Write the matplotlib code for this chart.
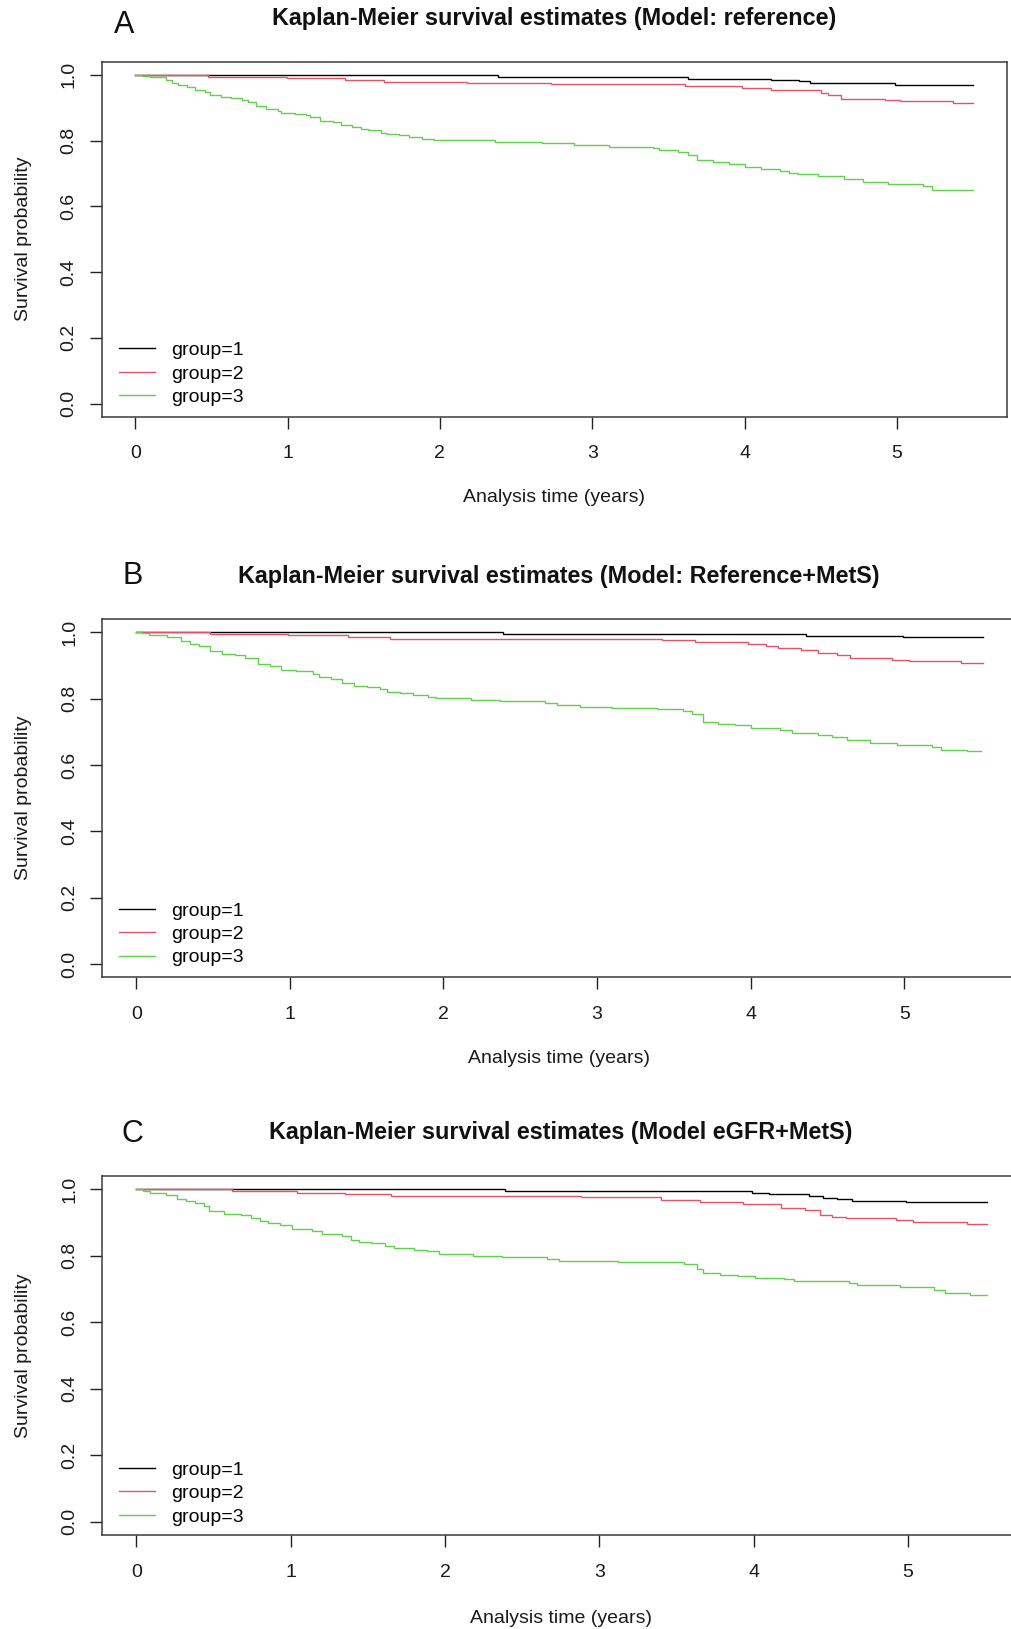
import matplotlib
matplotlib.use("Agg")
import matplotlib.pyplot as plt
from matplotlib.lines import Line2D

plt.rcParams['font.family'] = ['Liberation Sans', 'DejaVu Sans']

# ---------------- data ----------------
group_labels = ["group=1", "group=2", "group=3"]
group_colors = ["#000000", "#DF536B", "#61D04F"]
x_ticks = [0, 1, 2, 3, 4, 5]
y_ticks = [0.0, 0.2, 0.4, 0.6, 0.8, 1.0]
y_ticklabels = ["0.0", "0.2", "0.4", "0.6", "0.8", "1.0"]

titles = ["Kaplan-Meier survival estimates (Model: reference)",
          "Kaplan-Meier survival estimates (Model: Reference+MetS)",
          "Kaplan-Meier survival estimates (Model eGFR+MetS)"]
panel_letters = ["A", "B", "C"]

# Panel A
A_t1 = [0, 2.38, 3.63, 4.17, 4.36, 4.43, 4.99, 5.50]
A_s1 = [1.0, 0.994, 0.988, 0.985, 0.980, 0.975, 0.970, 0.970]
A_t2 = [0, 0.475, 0.995, 1.38, 1.63, 2.18, 2.73, 3.61, 3.98, 4.17, 4.50, 4.55, 4.63, 4.92, 5.02, 5.37, 5.50]
A_s2 = [1.0, 0.993, 0.989, 0.983, 0.978, 0.975, 0.971, 0.967, 0.961, 0.953, 0.946, 0.940, 0.927, 0.922, 0.919, 0.914, 0.914]
A_t3 = [0, 0.044, 0.10, 0.20, 0.24, 0.28, 0.34, 0.39, 0.46, 0.49, 0.56, 0.63, 0.70, 0.74, 0.79, 0.86, 0.94, 0.96,
        1.05, 1.12, 1.15, 1.21, 1.30, 1.35, 1.42, 1.48, 1.53, 1.61, 1.65, 1.73, 1.80, 1.88, 1.96, 2.36, 2.67, 2.88,
        3.11, 3.40, 3.44, 3.56, 3.63, 3.69, 3.79, 3.90, 4.00, 4.11, 4.23, 4.29, 4.35, 4.48, 4.65, 4.78, 4.94, 5.17,
        5.23, 5.50]
A_s3 = [1.0, 0.996, 0.993, 0.985, 0.976, 0.970, 0.963, 0.955, 0.948, 0.940, 0.934, 0.929, 0.922, 0.917, 0.904,
        0.897, 0.890, 0.885, 0.880, 0.877, 0.871, 0.861, 0.856, 0.846, 0.841, 0.836, 0.831, 0.824, 0.821, 0.816,
        0.810, 0.805, 0.802, 0.797, 0.792, 0.787, 0.782, 0.777, 0.772, 0.765, 0.755, 0.742, 0.736, 0.729, 0.721,
        0.714, 0.709, 0.701, 0.697, 0.691, 0.684, 0.673, 0.668, 0.661, 0.650, 0.650]

# Panel B
B_t1 = [0, 2.39, 4.36, 4.99, 5.51]
B_s1 = [1.0, 0.995, 0.990, 0.985, 0.985]
B_t2 = [0, 0.48, 0.99, 1.38, 1.65, 3.42, 3.64, 3.98, 4.10, 4.18, 4.33, 4.44, 4.56, 4.65, 4.92, 5.03, 5.37, 5.51]
B_s2 = [1.0, 0.996, 0.992, 0.986, 0.981, 0.976, 0.971, 0.966, 0.960, 0.953, 0.946, 0.937, 0.931, 0.922, 0.917,
        0.912, 0.907, 0.907]
B_t3 = [0, 0.036, 0.08, 0.20, 0.29, 0.35, 0.41, 0.48, 0.56, 0.64, 0.71, 0.79, 0.87, 0.94, 1.04, 1.15, 1.19, 1.27,
        1.34, 1.42, 1.50, 1.59, 1.63, 1.72, 1.80, 1.90, 1.95, 2.18, 2.37, 2.66, 2.74, 2.89, 3.10, 3.39, 3.56, 3.62,
        3.69, 3.79, 3.90, 4.00, 4.19, 4.27, 4.44, 4.53, 4.63, 4.78, 4.95, 5.18, 5.24, 5.41, 5.50]
B_s3 = [1.0, 0.997, 0.993, 0.986, 0.973, 0.966, 0.958, 0.944, 0.935, 0.930, 0.922, 0.905, 0.899, 0.887, 0.882,
        0.874, 0.865, 0.859, 0.846, 0.839, 0.836, 0.828, 0.821, 0.816, 0.811, 0.806, 0.801, 0.796, 0.793, 0.788,
        0.781, 0.776, 0.773, 0.768, 0.764, 0.754, 0.730, 0.725, 0.720, 0.712, 0.705, 0.697, 0.690, 0.683, 0.675,
        0.667, 0.660, 0.653, 0.646, 0.641, 0.641]

# Panel C
C_t1 = [0, 2.39, 3.99, 4.10, 4.36, 4.45, 4.54, 4.64, 4.99, 5.51]
C_s1 = [1.0, 0.995, 0.990, 0.985, 0.980, 0.975, 0.970, 0.965, 0.961, 0.961]
C_t2 = [0, 0.62, 1.04, 1.35, 1.65, 2.88, 3.40, 3.65, 3.93, 4.18, 4.33, 4.43, 4.51, 4.60, 4.92, 5.03, 5.38, 5.51]
C_s2 = [1.0, 0.995, 0.990, 0.985, 0.980, 0.976, 0.969, 0.962, 0.955, 0.944, 0.937, 0.922, 0.917, 0.914, 0.907,
        0.902, 0.897, 0.897]
C_t3 = [0, 0.04, 0.09, 0.19, 0.26, 0.32, 0.38, 0.44, 0.47, 0.57, 0.68, 0.74, 0.80, 0.85, 0.93, 1.01, 1.14, 1.20,
        1.33, 1.39, 1.44, 1.52, 1.61, 1.67, 1.80, 1.88, 1.96, 2.18, 2.37, 2.66, 2.74, 3.12, 3.55, 3.63, 3.67, 3.78,
        3.90, 4.01, 4.20, 4.26, 4.62, 4.67, 4.95, 5.17, 5.24, 5.40, 5.51]
C_s3 = [1.0, 0.995, 0.989, 0.984, 0.972, 0.965, 0.959, 0.951, 0.934, 0.927, 0.924, 0.914, 0.904, 0.900, 0.892,
        0.880, 0.874, 0.865, 0.859, 0.847, 0.842, 0.839, 0.830, 0.823, 0.818, 0.813, 0.806, 0.800, 0.795, 0.790,
        0.785, 0.781, 0.775, 0.761, 0.748, 0.743, 0.738, 0.733, 0.729, 0.723, 0.718, 0.713, 0.705, 0.698, 0.688,
        0.681, 0.681]

panels = [
    [(A_t1, A_s1), (A_t2, A_s2), (A_t3, A_s3)],
    [(B_t1, B_s1), (B_t2, B_s2), (B_t3, B_s3)],
    [(C_t1, C_s1), (C_t2, C_s2), (C_t3, C_s3)],
]

# ---------------- layout (pixels) ----------------
W, H = 1012, 1629
fig = plt.figure(figsize=(W / 100, H / 100), dpi=100)
fig.patch.set_facecolor("white")

# left, right, top, bottom in pixels
boxes = [(101.7, 1006.7, 61.7, 416.7),
         (102.5, 1014.8, 619.0, 977.3),
         (102.5, 1019.0, 1176.0, 1535.0)]
title_y = [19.0, 576.5, 1132.0]
letter_pos = [(124, 25), (133, 576), (132, 1134)]
xlabel_y = [497.6, 1058.7, 1618.7]
legend_rows_bottom = [406.0, 966.5, 1525.5]

FS = 14
spine_col = "#3a3a3a"

for i, (L, R, T, B) in enumerate(boxes):
    ax = fig.add_axes([L / W, 1 - B / H, (R - L) / W, (B - T) / H])
    for (t, s), col in zip(panels[i], group_colors):
        ax.step(t, s, where="post", color=col, lw=1.0, solid_joinstyle="miter")
    ax.set_xlim(-0.22, 5.72)
    ax.set_ylim(-0.04, 1.04)
    ax.set_xticks(x_ticks)
    ax.set_xticklabels([str(v) for v in x_ticks])
    ax.set_yticks(y_ticks)
    ax.set_yticklabels(y_ticklabels, rotation=90, va="center")
    ax.tick_params(axis="both", direction="out", length=8.6, width=1.0, color="#222222",
                   labelsize=FS, labelcolor="#1a1a1a")
    ax.tick_params(axis="x", pad=12)
    ax.tick_params(axis="y", pad=9)
    for sp in ax.spines.values():
        sp.set_color(spine_col)
        sp.set_linewidth(1.1)
    ax.set_ylabel("Survival probability", fontsize=FS, color="#1a1a1a", va="center")
    ax.yaxis.set_label_coords((24 - L) / (R - L), 0.5)
    ax.set_xlabel("Analysis time (years)", fontsize=FS, color="#1a1a1a", va="center")
    ax.xaxis.set_label_coords(0.5, -(xlabel_y[i] - B) / (B - T))
    ax.set_title(titles[i], fontsize=16.8, fontweight="bold", va="center", pad=0,
                 y=1 + (T - title_y[i]) / (B - T), color="#111111")
    lx, ly = letter_pos[i]
    fig.text(lx / W, 1 - ly / H, panel_letters[i], fontsize=22, ha="center", va="center", color="#111111")

    handles = [Line2D([], [], color=c, lw=1.0) for c in group_colors]
    ax.legend(handles, group_labels, loc="lower left",
              bbox_to_anchor=((119 - L) / (R - L), (B - legend_rows_bottom[i]) / (B - T)),
              frameon=False, fontsize=FS, handlelength=1.85, handletextpad=0.85,
              labelspacing=0.3, borderpad=0, borderaxespad=0)

fig.savefig("out.png", dpi=100, facecolor="white")
